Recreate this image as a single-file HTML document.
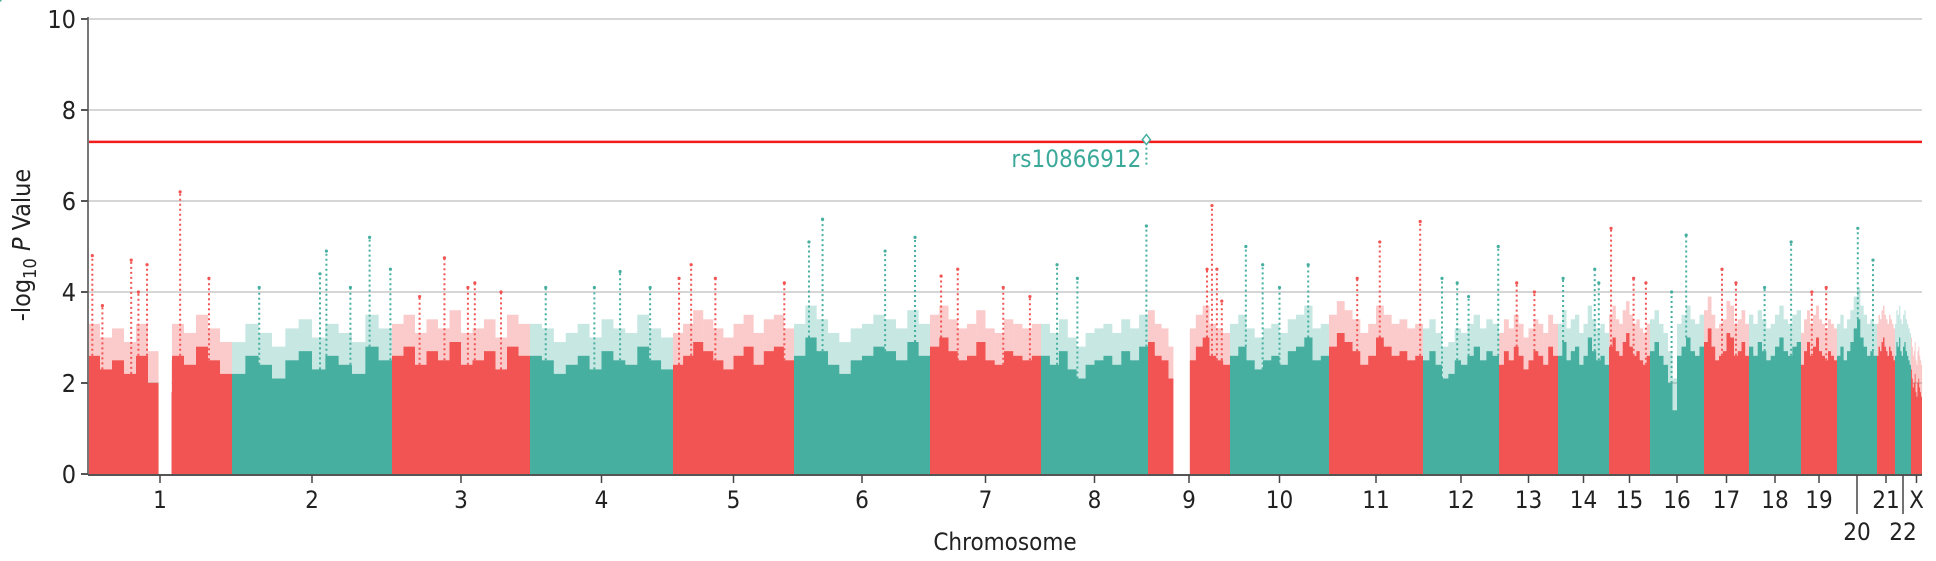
<!DOCTYPE html>
<html><head><meta charset="utf-8">
<style>
html,body{margin:0;padding:0;background:#fff;}
svg{display:block;}
text{font-family:"Liberation Sans Narrow","DejaVu Sans Condensed","Liberation Sans",sans-serif;}
</style></head>
<body>
<svg id="chart" width="1936" height="561" viewBox="0 0 1936 561">
<g id="grid"></g>
<g id="marks"></g>
<g id="axes"></g>
</svg>
<script>
// ---- data ----
const chromLabels = ["1","2","3","4","5","6","7","8","9","10","11","12","13","14","15","16","17","18","19","20","21","22","X"];
const chromSizes = [144,160,138,143,121,136,111,107,82,99,94,76,59,51,41,54,45,52,36,40,18,16,11];
const envelopes = [
 [2.6,2.3,2.5,2.2,2.6,2.0,1.8,2.6,2.4,2.8,2.5,2.2],
 [2.2,2.6,2.4,2.1,2.5,2.7,2.3,2.6,2.4,2.2,2.8,2.5],
 [2.6,2.8,2.4,2.7,2.5,2.9,2.4,2.5,2.7,2.3,2.8,2.6],
 [2.6,2.5,2.2,2.4,2.6,2.3,2.7,2.5,2.4,2.8,2.5,2.3],
 [2.4,2.6,2.9,2.7,2.5,2.3,2.6,2.8,2.4,2.7,2.8,2.5],
 [2.6,3.0,2.7,2.4,2.2,2.5,2.6,2.8,2.7,2.5,2.9,2.6],
 [2.8,3.0,2.7,2.5,2.6,2.9,2.5,2.4,2.7,2.6,2.5,2.6],
 [2.6,2.4,2.7,2.3,2.1,2.4,2.5,2.6,2.4,2.7,2.5,2.8],
 [2.9,2.6,2.5,2.1,0.3,0.2,2.5,2.8,3.0,2.6,2.5,2.4],
 [2.6,2.8,2.5,2.3,2.5,2.6,2.4,2.7,2.8,3.0,2.5,2.6],
 [2.8,3.1,2.9,2.7,2.4,2.6,3.0,2.8,2.6,2.7,2.5,2.6],
 [2.5,2.7,2.4,2.1,2.2,2.5,2.4,2.6,2.8,2.5,2.7,2.6],
 [2.4,2.7,2.5,2.8,2.6,2.3,2.5,2.7,2.6,2.4,2.8,2.6],
 [2.6,2.9,2.5,2.7,2.8,2.4,2.6,3.0,2.7,2.5,2.6,2.4],
 [2.8,3.0,2.7,2.6,2.9,3.1,2.8,2.6,2.7,2.5,2.4,2.6],
 [2.7,2.9,2.6,2.4,2.0,1.4,2.6,2.8,3.0,2.7,2.6,2.8],
 [2.9,3.2,2.8,2.5,2.6,2.7,3.1,3.0,2.6,2.7,2.9,2.6],
 [2.8,2.6,2.9,2.7,2.5,2.6,2.8,3.0,2.7,2.6,2.8,2.9],
 [2.4,2.7,2.9,2.6,2.8,3.0,2.7,2.6,2.5,2.7,2.6,2.5],
 [2.6,2.8,2.5,2.7,2.9,3.2,3.4,3.0,2.8,2.6,2.7,2.6],
 [2.6,2.8,2.7,2.9,3.0,2.8,2.7,2.6,2.8,2.7,2.6,2.5],
 [2.6,2.9,2.8,3.0,2.7,2.6,2.8,2.9,2.7,2.6,2.5,2.4],
 [2.3,2.1,1.9,2.0,2.2,1.8,1.7,2.0,2.1,1.9,1.8,1.7]
];
const gapChrom = [0, 8];
const gapStart = [0.49, 0.31];
const gapEnd   = [0.58, 0.51];
const peakChrom  = [0,0,0,0,0,0,0, 1,1,1,1,1,1, 2,2,2,2,2, 3,3,3,3, 4,4,4,4, 5,5,5,5, 6,6,6,6, 7,7,7, 8,8,8,8, 9,9,9,9, 10,10,10, 11,11,11,11, 12,12, 13,13,13, 14,14,14, 15,15, 16,16, 17,17, 18,18, 19,19, 20, 21];
const peakPos    = [0.03,0.1,0.3,0.35,0.41,0.64,0.84, 0.17,0.55,0.59,0.74,0.86,0.99, 0.2,0.38,0.55,0.6,0.79, 0.11,0.45,0.63,0.84, 0.05,0.15,0.35,0.92, 0.11,0.21,0.67,0.89, 0.1,0.25,0.66,0.9, 0.15,0.34,0.985, 0.72,0.78,0.84,0.9, 0.16,0.33,0.5,0.79, 0.3,0.54,0.97, 0.25,0.45,0.6,0.99, 0.3,0.6, 0.1,0.72,0.8, 0.05,0.6,0.9, 0.67,0.4, 0.71,0.4, 0.81,0.3, 0.3,0.7, 0.52, 0.9];
const peakVal    = [4.8,3.7,4.7,4.0,4.6,6.2,4.3, 4.1,4.4,4.9,4.1,5.2,4.5, 3.9,4.75,4.1,4.2,4.0, 4.1,4.1,4.45,4.1, 4.3,4.6,4.3,4.2, 5.1,5.6,4.9,5.2, 4.35,4.5,4.1,3.9, 4.6,4.3,5.45, 4.5,5.9,4.5,3.8, 5.0,4.6,4.1,4.6, 4.3,5.1,5.55, 4.3,4.2,3.9,5.0, 4.2,4.0, 4.3,4.5,4.2, 5.4,4.3,4.2, 5.25,4.0, 4.2,4.5, 5.1,4.1, 4.0,4.1, 5.4, 4.7];
const hitChrom = 7, hitPos = 0.985, hitVal = 7.35, hitLabel = "rs10866912";
const yTicks = [0,2,4,6,8,10];
const threshold = 7.3;

// ---- layout ----
const NS = "http://www.w3.org/2000/svg";
const X0 = 88, X1 = 1922, Y0 = 474, PXU = 45.5;
const totalSize = chromSizes.reduce((a,b)=>a+b,0);
const starts = []; let acc = 0;
chromSizes.forEach(s=>{starts.push(acc); acc+=s;});
function xs(ci, f){ return X0 + (starts[ci] + f*chromSizes[ci]) / totalSize * (X1-X0); }
function ys(v){ return Y0 - v*PXU; }
const RED = "#f15452", TEAL = "#46afa0";
function colorOf(ci){ return ci%2===0 ? RED : TEAL; }
function mk(tag, attrs, parent){ const e=document.createElementNS(NS,tag); for(const k in attrs) e.setAttribute(k,attrs[k]); parent.appendChild(e); return e; }

const grid = document.getElementById('grid'), marks = document.getElementById('marks'), axes = document.getElementById('axes');

yTicks.forEach(t=>{
  if(t>0){ const g = mk('line',{x1:X0,x2:1922,y1:ys(t),y2:ys(t),stroke:'#d6d6d6','stroke-width':2},grid);
  
   }
});

// chromosome bodies
chromSizes.forEach((s,ci)=>{
  const env = envelopes[ci];
  const n = env.length;
  let d = "M"+xs(ci,0)+","+Y0;
  for(let i=0;i<n;i++){
    d += " L"+xs(ci,i/n)+","+ys(env[i])+" L"+xs(ci,(i+1)/n)+","+ys(env[i]);
  }
  d += " L"+xs(ci,1)+","+Y0+" Z";
  const p = mk('path',{d:d,fill:colorOf(ci)},marks);
  
  
  for(let i=0;i<n;i++){
    const sc = mk('rect',{x:xs(ci,i/n),y:ys(env[i]+0.7),width:Math.max(1,xs(ci,(i+1)/n)-xs(ci,i/n)),height:0.7*PXU,fill:colorOf(ci),opacity:0.3},marks);
    
    
  }
});
// gaps (no SNPs)
gapChrom.forEach((ci,i)=>{
  const g = mk('rect',{x:xs(ci,gapStart[i]),y:ys(3.9),width:xs(ci,gapEnd[i])-xs(ci,gapStart[i]),height:3.9*PXU,fill:'#fff'},marks);
  
  
});
// peaks
peakChrom.forEach((ci,i)=>{
  const x = xs(ci,peakPos[i]);
  const n = envelopes[ci].length;
  const base = envelopes[ci][Math.min(n-1,Math.floor(peakPos[i]*n))];
  const l = mk('line',{x1:x,x2:x,y1:ys(base),y2:ys(peakVal[i]),stroke:colorOf(ci),'stroke-width':2,'stroke-dasharray':'2 3'},marks);
  
  
  const c = mk('circle',{cx:x,cy:ys(peakVal[i]),r:1.6,fill:colorOf(ci)},marks);
  
  
});

// threshold line
const th = mk('line',{x1:X0,x2:1922,y1:ys(threshold),y2:ys(threshold),stroke:'#f21c1c','stroke-width':2.5},marks);



// hit
const hx = xs(hitChrom,hitPos), hy = ys(hitVal);
const hl = mk('line',{x1:hx,x2:hx,y1:ys(6.8),y2:hy,stroke:TEAL,'stroke-width':2,'stroke-dasharray':'2 3'},marks);


const dm = mk('path',{d:`M${hx},${hy-5} L${hx+4},${hy} L${hx},${hy+5} L${hx-4},${hy} Z`,fill:'#fff',stroke:TEAL,'stroke-width':1.5},marks);


const ht = mk('text',{x:hx-70,y:167,'text-anchor':'middle','font-size':24,fill:'#3aa99a'},marks);
ht.textContent = hitLabel;



// axes
const ya = mk('line',{x1:X0,x2:X0,y1:17,y2:Y0+1,stroke:'#777','stroke-width':2},axes);


const xa = mk('line',{x1:X0,x2:1922,y1:Y0+1,y2:Y0+1,stroke:'#555','stroke-width':2},axes);


yTicks.forEach(t=>{
  const tk = mk('line',{x1:X0-7,x2:X0,y1:ys(t),y2:ys(t),stroke:'#555','stroke-width':2},axes);
  
  
  const tx = mk('text',{x:X0-12,y:ys(t)+9,'text-anchor':'end','font-size':25,fill:'#222'},axes);
  tx.textContent = t;
  
  
});
chromLabels.forEach((lab,ci)=>{
  const x = xs(ci,0.5);
  const low = (lab==="20"||lab==="22");
  const tk = mk('line',{x1:x,x2:x,y1:Y0+1,y2:low?Y0+40:Y0+9,stroke:'#444','stroke-width':1.5},axes);
  
  
  const tx = mk('text',{x:x,y:low?540:508,'text-anchor':'middle','font-size':24,fill:'#222'},axes);
  tx.textContent = lab;
  
  
});
const xt = mk('text',{x:1005,y:550,'text-anchor':'middle','font-size':24,fill:'#222'},axes);
xt.textContent = "Chromosome";


const yt = mk('text',{x:0,y:0,'text-anchor':'middle','font-size':25,fill:'#222',transform:'translate(30,245) rotate(-90)'},axes);
yt.innerHTML = '-log<tspan font-size="18" dy="6">10</tspan><tspan dy="-6"> </tspan><tspan font-style="italic">P</tspan> Value';


</script>
</body></html>
